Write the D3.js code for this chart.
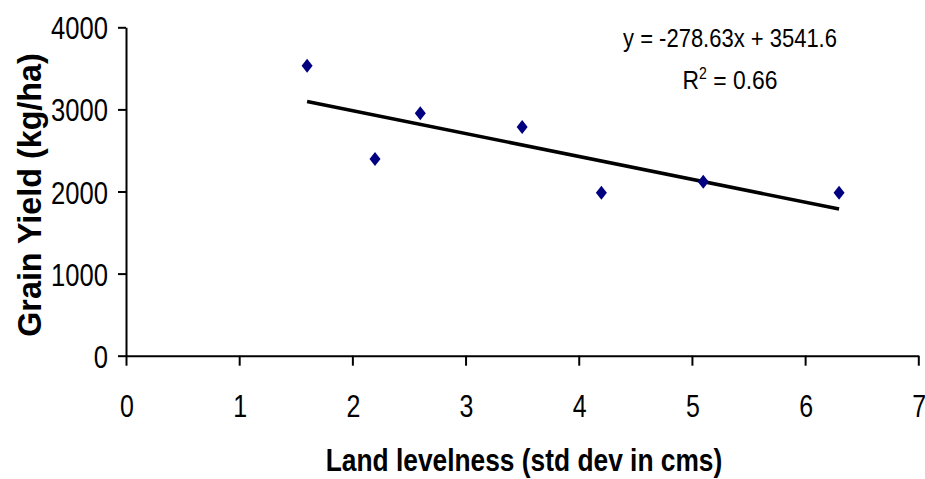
<!DOCTYPE html>
<html><head><meta charset="utf-8">
<script src="https://cdn.jsdelivr.net/npm/d3@7"></script>
<style>
html,body{margin:0;padding:0;background:#fff;}
svg{display:block;}
text{font-family:"Liberation Sans",Arial,sans-serif;fill:#000;}
</style></head>
<body>
<svg id="chart" width="925" height="479"></svg>
<script>
const levelness = [1.6, 2.2, 2.6, 3.5, 4.2, 5.1, 6.3];
const grainYield = [3532, 2396, 2952, 2785, 1985, 2119, 1985];
const xTicks = [0, 1, 2, 3, 4, 5, 6, 7];
const yTicks = [0, 1000, 2000, 3000, 4000];
const slope = -278.63, intercept = 3541.6;
const eqText = "y = -278.63x + 3541.6";
const r2Value = "0.66";
const xTitle = "Land levelness (std dev in cms)";
const yTitle = "Grain Yield (kg/ha)";

const svg = d3.select("#chart");
const x = d3.scaleLinear().domain([0, 7]).range([126, 918.3]);
const y = d3.scaleLinear().domain([0, 4000]).range([355.7, 27.3]);

// X axis
const gx = svg.append("g").attr("transform", `translate(0,${y(0)})`)
  .call(d3.axisBottom(x).tickValues(xTicks).tickSize(10).tickSizeOuter(0).tickFormat(d3.format("d")));
gx.select(".domain").attr("stroke", "#000").attr("stroke-width", 2);
gx.selectAll(".tick line").attr("stroke", "#000").attr("stroke-width", 2);
gx.selectAll(".tick text").attr("y", null).attr("dy", null)
  .attr("transform", "translate(0.5,61) scale(0.78,1)")
  .attr("font-size", 32).attr("text-anchor", "middle")
  .style("font-family", "'Liberation Sans',Arial,sans-serif");

// Y axis
const gy = svg.append("g").attr("transform", `translate(${x(0)},0)`)
  .call(d3.axisLeft(y).tickValues(yTicks).tickSize(8).tickSizeOuter(0).tickFormat(d3.format("d")));
gy.select(".domain").attr("stroke", "#000").attr("stroke-width", 2);
gy.selectAll(".tick line").attr("stroke", "#000").attr("stroke-width", 2);
gy.selectAll(".tick text").attr("x", null).attr("dy", null)
  .attr("transform", "translate(-18,11.5) scale(0.8,1)")
  .attr("font-size", 32).attr("text-anchor", "end")
  .style("font-family", "'Liberation Sans',Arial,sans-serif");

// Trend line
const x0 = d3.min(levelness), x1 = d3.max(levelness);
svg.append("line")
  .attr("x1", x(x0)).attr("y1", y(slope * x0 + intercept))
  .attr("x2", x(x1)).attr("y2", y(slope * x1 + intercept))
  .attr("stroke", "#000").attr("stroke-width", 3.5);

// Points
const diamond = "M0,-7L5.5,0L0,7L-5.5,0Z";
svg.append("g").selectAll("path").data(levelness.map((d, i) => [d, grainYield[i]]))
  .join("path")
  .attr("d", diamond)
  .attr("transform", d => `translate(${x(d[0])},${y(d[1])})`)
  .attr("fill", "#000080");

// Equation
svg.append("text").attr("transform", "translate(730,46.7) scale(0.88,1)")
  .attr("text-anchor", "middle").attr("font-size", 25).text(eqText);
const r2 = svg.append("text").attr("transform", "translate(730,89.3) scale(0.88,1)")
  .attr("text-anchor", "middle").attr("font-size", 26);
r2.append("tspan").text("R");
r2.append("tspan").attr("dy", -10).attr("font-size", 16).text("2");
r2.append("tspan").attr("dy", 10).text(" = " + r2Value);

// Axis titles
svg.append("text").attr("transform", "translate(524,471) scale(0.85,1)")
  .attr("text-anchor", "middle").attr("font-size", 31).attr("font-weight", "bold").text(xTitle);
svg.append("text").attr("transform", "translate(41,195) rotate(-90) scale(0.95,1)")
  .attr("text-anchor", "middle").attr("font-size", 34).attr("font-weight", "bold").text(yTitle);
</script>
</body></html>
